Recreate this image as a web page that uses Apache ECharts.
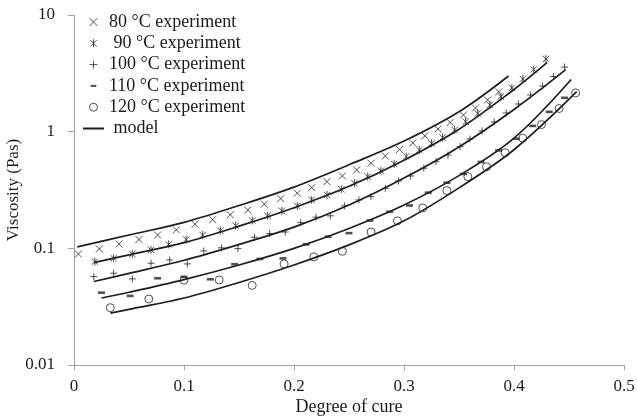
<!DOCTYPE html>
<html>
<head>
<meta charset="utf-8">
<script src="https://cdn.jsdelivr.net/npm/echarts@6/dist/echarts.min.js"></script>
<style>
html, body { margin: 0; padding: 0; background: #fff; }
#chart { width: 637px; height: 420px; }
</style>
</head>
<body>
<div id="chart"></div>
<script>
// tick labels
const xTickLabels = ['0', '0.1', '0.2', '0.3', '0.4', '0.5'];
const yTickLabels = ['0.01', '0.1', '1', '10'];

// experiments (degree of cure, viscosity Pas)
const exp80X = [0.004,0.023,0.041,0.059,0.076,0.093,0.110,0.126,0.142,0.158,0.173,0.188,0.203,0.216,0.230,0.244,0.257,0.270,0.283,0.296,0.308,0.319,0.331,0.342,0.354,0.365,0.376,0.386];
const exp80Y = [0.0895,0.0988,0.109,0.119,0.130,0.144,0.161,0.176,0.194,0.213,0.239,0.267,0.297,0.331,0.373,0.417,0.470,0.536,0.619,0.704,0.800,0.919,1.055,1.199,1.390,1.596,1.87,2.19];

const exp90X = [0.019,0.036,0.053,0.070,0.086,0.102,0.117,0.133,0.147,0.162,0.176,0.189,0.203,0.216,0.230,0.243,0.255,0.267,0.279,0.291,0.302,0.314,0.325,0.335,0.346,0.356,0.367,0.378,0.388,0.398,0.408,0.418,0.429];
const exp90Y = [0.0769,0.0823,0.0895,0.0969,0.108,0.119,0.130,0.142,0.156,0.173,0.190,0.210,0.231,0.260,0.287,0.321,0.361,0.412,0.462,0.528,0.613,0.697,0.795,0.892,1.034,1.218,1.432,1.694,2.0,2.37,2.83,3.41,4.2];

const exp100X = [0.018,0.036,0.053,0.070,0.087,0.103,0.118,0.134,0.149,0.164,0.178,0.192,0.206,0.220,0.233,0.246,0.259,0.270,0.283,0.295,0.306,0.318,0.329,0.340,0.351,0.360,0.371,0.382,0.393,0.404,0.415,0.426,0.436,0.446];
const exp100Y = [0.0572,0.0612,0.0547,0.0745,0.0795,0.0735,0.0950,0.101,0.0994,0.1245,0.134,0.138,0.166,0.185,0.190,0.231,0.260,0.277,0.327,0.378,0.417,0.486,0.553,0.631,0.744,0.866,1.014,1.21,1.446,1.727,2.06,2.46,2.97,3.58];

const exp110X = [0.025,0.051,0.076,0.100,0.124,0.146,0.169,0.190,0.211,0.231,0.250,0.269,0.287,0.305,0.322,0.339,0.354,0.370,0.386,0.402,0.417,0.432,0.446];
const exp110Y = [0.0417,0.0391,0.0554,0.0569,0.0543,0.0731,0.0811,0.0820,0.108,0.126,0.135,0.173,0.206,0.233,0.300,0.365,0.434,0.55,0.69,0.87,1.12,1.48,1.95];

const exp120X = [0.033,0.068,0.100,0.132,0.162,0.191,0.218,0.244,0.270,0.294,0.317,0.339,0.358,0.375,0.392,0.408,0.425,0.441,0.456];
const exp120Y = [0.031,0.0368,0.0533,0.0536,0.0481,0.0735,0.0844,0.0944,0.138,0.172,0.222,0.313,0.412,0.50,0.66,0.88,1.15,1.58,2.15];

// model curves
const model80X = [0.003,0.05,0.1,0.15,0.2,0.25,0.3,0.35,0.395];
const model80Y = [0.103,0.130,0.167,0.233,0.335,0.52,0.83,1.48,3.0];
const model90X = [0.018,0.05,0.1,0.15,0.2,0.25,0.3,0.35,0.4,0.43];
const model90Y = [0.0755,0.088,0.112,0.155,0.223,0.34,0.57,1.05,2.3,3.9];
const model100X = [0.018,0.05,0.1,0.15,0.2,0.25,0.3,0.35,0.4,0.447];
const model100Y = [0.052,0.061,0.079,0.108,0.152,0.235,0.40,0.74,1.55,3.4];
const model110X = [0.025,0.05,0.1,0.15,0.2,0.25,0.3,0.35,0.4,0.452];
const model110Y = [0.0375,0.042,0.054,0.072,0.100,0.148,0.235,0.42,0.88,2.8];
const model120X = [0.033,0.05,0.1,0.15,0.2,0.25,0.3,0.35,0.4,0.457];
const model120Y = [0.0278,0.030,0.0375,0.051,0.072,0.107,0.172,0.33,0.70,2.2];

function pairs(xs, ys) {
  return xs.map((x, i) => [x, ys[i]]);
}

const FONT = 'Liberation Serif';
const MARK = '#262626';
const LINE = '#1e1e1e';

// marker shapes (padded to a 10x10 box)
const SYM_CROSS = 'path://M0,0L10,10M10,0L0,10';
const SYM_STAR = 'path://M0,0M10,10M1,1L9,9M9,1L1,9M5,0L5,10';
const SYM_PLUS = 'path://M5,0L5,10M0,5L10,5';
const SYM_DASH = 'path://M0,0M10,10M1.5,3.7L8.5,3.7L8.5,6.3L1.5,6.3Z';

const strokeStyle = { color: 'transparent', borderColor: MARK, borderWidth: 1 };

function expSeries(name, xs, ys, symbol, size, style) {
  return {
    name: name,
    type: 'scatter',
    data: pairs(xs, ys),
    symbol: symbol,
    symbolSize: size,
    itemStyle: style,
    z: 3
  };
}

function modelSeries(xs, ys) {
  return {
    name: ' model',
    type: 'line',
    data: pairs(xs, ys),
    smooth: 0.35,
    symbol: 'none',
    lineStyle: { color: LINE, width: 1.7 },
    itemStyle: { color: LINE },
    z: 2
  };
}

let chart = echarts.init(document.getElementById('chart'));
let chartOpt = {
  backgroundColor: '#fff',
  animation: false,
  textStyle: { fontFamily: FONT },
  grid: {
    left: 74,
    right: 13,
    top: 15,
    bottom: 55,
    containLabel: false,
    outerBoundsMode: 'none'
  },
  legend: {
    orient: 'vertical',
    left: 77,
    top: 8,
    itemWidth: 21,
    itemHeight: 8,
    itemGap: 3.3,
    textStyle: { fontFamily: FONT, fontSize: 18, color: '#1a1a1a' },
    itemStyle: { borderWidth: 1 },
    data: [
      '80 °C experiment',
      ' 90 °C experiment',
      '100 °C experiment',
      '110 °C experiment',
      '120 °C experiment',
      { name: ' model', itemStyle: { color: 'transparent', borderWidth: 0 } }
    ]
  },
  xAxis: {
    type: 'value',
    min: 0,
    max: 0.5,
    interval: 0.1,
    name: 'Degree of cure',
    nameLocation: 'middle',
    nameGap: 33,
    nameMoveOverlap: false,
    nameTextStyle: { fontFamily: FONT, fontSize: 18, color: '#1a1a1a' },
    axisLine: { show: true, lineStyle: { color: '#a0a0a0', width: 1 } },
    axisTick: { show: true, inside: false, length: 5, lineStyle: { color: '#a0a0a0' } },
    axisLabel: {
      margin: 13,
      fontFamily: FONT,
      fontSize: 17,
      color: '#1a1a1a',
      formatter: v => xTickLabels[Math.round(v * 10)]
    },
    splitLine: { show: false }
  },
  yAxis: {
    type: 'log',
    logBase: 10,
    min: 0.01,
    max: 10,
    name: 'Viscosity (Pas)',
    nameLocation: 'middle',
    nameRotate: 90,
    nameGap: 52,
    nameMoveOverlap: false,
    nameTextStyle: { fontFamily: FONT, fontSize: 17, color: '#1a1a1a' },
    axisLine: { show: true, lineStyle: { color: '#a0a0a0', width: 1 } },
    axisTick: { show: true, inside: false, length: 6, lineStyle: { color: '#a0a0a0' } },
    minorTick: { show: false },
    axisLabel: {
      margin: 19,
      fontFamily: FONT,
      fontSize: 17,
      color: '#1a1a1a',
      formatter: v => yTickLabels[Math.round(Math.log10(v)) + 2]
    },
    splitLine: { show: false }
  },
  series: [
    expSeries('80 °C experiment', exp80X, exp80Y, SYM_CROSS, 7, strokeStyle),
    expSeries(' 90 °C experiment', exp90X, exp90Y, SYM_STAR, 8, strokeStyle),
    expSeries('100 °C experiment', exp100X, exp100Y, SYM_PLUS, 7, strokeStyle),
    expSeries('110 °C experiment', exp110X, exp110Y, SYM_DASH, 10, { color: MARK }),
    expSeries('120 °C experiment', exp120X, exp120Y, 'circle', 8, strokeStyle),
    modelSeries(model80X, model80Y),
    modelSeries(model90X, model90Y),
    modelSeries(model100X, model100Y),
    modelSeries(model110X, model110Y),
    modelSeries(model120X, model120Y)
  ]
};

chart.setOption(chartOpt);
</script>
</body>
</html>
